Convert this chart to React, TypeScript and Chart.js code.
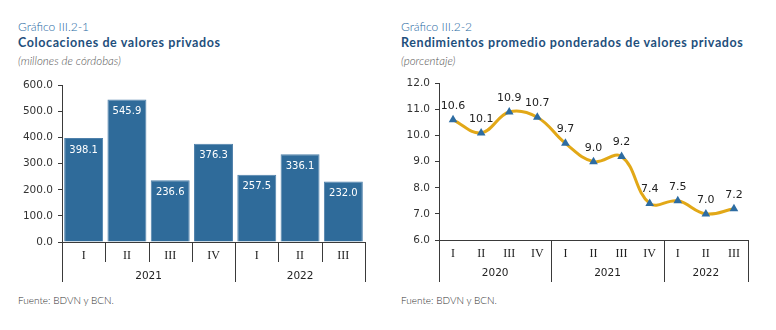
import React, { useEffect, useRef } from "react";
import { Chart, registerables } from "chart.js";

Chart.register(...registerables);

// ---- Data: chart 1 (bars)
const barQuarters = ["I", "II", "III", "IV", "I", "II", "III"];
const barYears = [
  { label: "2021", span: 4 },
  { label: "2022", span: 3 },
];
const barValues = [398.1, 545.9, 236.6, 376.3, 257.5, 336.1, 232.0];
const barYTicks = { min: 0, max: 600, step: 100 };

// ---- Data: chart 2 (line)
const lineQuarters = ["I", "II", "III", "IV", "I", "II", "III", "IV", "I", "II", "III"];
const lineYears = [
  { label: "2020", span: 4 },
  { label: "2021", span: 4 },
  { label: "2022", span: 3 },
];
const lineValues = [10.6, 10.1, 10.9, 10.7, 9.7, 9.0, 9.2, 7.4, 7.5, 7.0, 7.2];
const lineYTicks = { min: 6, max: 12, step: 1 };

const BLUE = "#2F6B9A";
const GOLD = "#E2A817";
const AXIS = "#3a3a3a";
const SANS = "'DejaVu Sans', Verdana, sans-serif";

const multiAxisPlugin = {
  id: "multiAxis",
  afterDraw(chart: any) {
    const o = chart.options.plugins.multiAxis;
    if (!o) return;
    const { ctx, chartArea } = chart;
    const x = chart.scales.x;
    const n = o.quarters.length;
    const w = (chartArea.right - chartArea.left) / n;
    const b = chartArea.bottom;
    ctx.save();
    ctx.strokeStyle = AXIS;
    ctx.lineWidth = 1;
    ctx.beginPath();
    ctx.moveTo(chartArea.left, Math.round(b) + 0.5);
    ctx.lineTo(chartArea.right, Math.round(b) + 0.5);
    ctx.stroke();
    const yearBounds: number[] = [0];
    let acc = 0;
    o.years.forEach((y: any) => {
      acc += y.span;
      yearBounds.push(acc);
    });
    for (let i = 0; i <= n; i++) {
      const px = Math.round(chartArea.left + i * w) + 0.5;
      const isYear = yearBounds.includes(i);
      if (!isYear && !o.quarterTicks) continue;
      ctx.beginPath();
      ctx.moveTo(px, b);
      ctx.lineTo(px, b + (isYear ? o.longLen : o.shortLen));
      ctx.stroke();
    }
    ctx.fillStyle = "#222";
    ctx.textAlign = "center";
    ctx.textBaseline = "middle";
    ctx.font = "12px 'Liberation Serif', 'Times New Roman', serif";
    o.quarters.forEach((q: string, i: number) => {
      ctx.fillText(q, x.getPixelForValue(i), b + o.qOffset);
    });
    ctx.font = "10.5px " + SANS;
    let start = 0;
    o.years.forEach((y: any) => {
      const cx = chartArea.left + (start + y.span / 2) * w;
      ctx.fillText(y.label, cx, b + o.yOffset);
      start += y.span;
    });
    ctx.restore();
  },
};

const valueLabelPlugin = {
  id: "valueLabels",
  afterDatasetsDraw(chart: any) {
    const o = chart.options.plugins.valueLabels;
    if (!o) return;
    const { ctx } = chart;
    const meta = chart.getDatasetMeta(0);
    const data = chart.data.datasets[0].data;
    ctx.save();
    ctx.fillStyle = o.color;
    ctx.font = o.font;
    ctx.textAlign = "center";
    ctx.textBaseline = "middle";
    meta.data.forEach((el: any, i: number) => {
      ctx.fillText(Number(data[i]).toFixed(1), el.x, el.y + o.dy);
    });
    ctx.restore();
  },
};

function yScale(t: { min: number; max: number; step: number }, width: number) {
  return {
    min: t.min,
    max: t.max,
    afterFit: (s: any) => {
      s.width = width;
    },
    ticks: {
      stepSize: t.step,
      color: "#333",
      font: { family: SANS, size: 10.5 },
      padding: 5,
      callback: (v: any) => Number(v).toFixed(1),
    },
    grid: {
      drawOnChartArea: false,
      drawTicks: true,
      tickLength: 4,
      color: AXIS,
    },
    border: { display: true, color: AXIS, width: 1 },
  };
}

function BarChart() {
  const ref = useRef<HTMLCanvasElement>(null);
  useEffect(() => {
    const chart = new Chart(ref.current!, {
      type: "bar",
      data: {
        labels: barQuarters,
        datasets: [
          {
            data: barValues,
            backgroundColor: BLUE,
            borderColor: "#4f81ab",
            borderWidth: 1,
            barPercentage: 0.9,
            categoryPercentage: 1,
          },
        ],
      },
      options: {
        responsive: false,
        animation: false,
        layout: { padding: { left: 0, right: 15, top: 10, bottom: 52 } },
        scales: {
          x: { display: false, offset: true },
          y: yScale(barYTicks, 62) as any,
        },
        plugins: {
          legend: { display: false },
          tooltip: { enabled: false },
          multiAxis: {
            quarters: barQuarters,
            years: barYears,
            quarterTicks: true,
            shortLen: 20,
            longLen: 40,
            qOffset: 14,
            yOffset: 34,
          },
          valueLabels: { color: "#fff", font: "10px " + SANS, dy: 12 },
        } as any,
      },
      plugins: [multiAxisPlugin, valueLabelPlugin],
    });
    return () => chart.destroy();
  }, []);
  return <canvas ref={ref} width={380} height={220} />;
}

function LineChart() {
  const ref = useRef<HTMLCanvasElement>(null);
  useEffect(() => {
    const chart = new Chart(ref.current!, {
      type: "line",
      data: {
        labels: lineQuarters,
        datasets: [
          {
            data: lineValues,
            borderColor: GOLD,
            borderWidth: 3,
            tension: 0.4,
            pointStyle: "triangle",
            pointRadius: 5,
            pointBackgroundColor: "#2D6CA2",
            pointBorderColor: "#2D6CA2",
            pointBorderWidth: 0,
            fill: false,
          },
        ],
      },
      options: {
        responsive: false,
        animation: false,
        layout: { padding: { left: 0, right: 28, top: 11, bottom: 52 } },
        scales: {
          x: { display: false, offset: true },
          y: yScale(lineYTicks, 59) as any,
        },
        plugins: {
          legend: { display: false },
          tooltip: { enabled: false },
          multiAxis: {
            quarters: lineQuarters,
            years: lineYears,
            quarterTicks: false,
            shortLen: 20,
            longLen: 42,
            qOffset: 14,
            yOffset: 33,
          },
          valueLabels: { color: "#222", font: "11px " + SANS, dy: -14 },
        } as any,
      },
      plugins: [multiAxisPlugin, valueLabelPlugin],
    });
    return () => chart.destroy();
  }, []);
  return <canvas ref={ref} width={396} height={220} />;
}

const TITLE_FONT = "Lato, 'Noto Sans', sans-serif";

function Titles({ left, kicker, title, sub }: { left: number; kicker: string; title: string; sub: string }) {
  const base: React.CSSProperties = {
    position: "absolute",
    left,
    whiteSpace: "nowrap",
    fontFamily: TITLE_FONT,
    lineHeight: "14px",
  };
  return (
    <>
      <div style={{ ...base, top: 20, fontSize: 12, color: "#2A6BA4", fontWeight: 300 }}>{kicker}</div>
      <div style={{ ...base, top: 36, fontSize: 12.5, color: "#1E4F7C", fontWeight: 700, letterSpacing: 0.6 }}>{title}</div>
      <div style={{ ...base, top: 54, fontSize: 11.5, color: "#555", fontStyle: "italic", fontWeight: 300 }}>{sub}</div>
      <div style={{ ...base, top: 293, fontSize: 10, color: "#333", fontWeight: 300 }}>Fuente: BDVN y BCN.</div>
    </>
  );
}

export default function App() {
  return (
    <div
      style={{
        position: "fixed",
        left: 0,
        top: 0,
        width: 776,
        height: 330,
        background: "#fff",
        overflow: "hidden",
      }}
    >
      <Titles left={18} kicker="Gráfico III.2-1" title="Colocaciones de valores privados" sub="(millones de córdobas)" />
      <Titles
        left={401}
        kicker="Gráfico III.2-2"
        title="Rendimientos promedio ponderados de valores privados"
        sub="(porcentaje)"
      />
      <div style={{ position: "absolute", left: 0, top: 74, width: 380, height: 220 }}>
        <BarChart />
      </div>
      <div style={{ position: "absolute", left: 380, top: 72, width: 396, height: 220 }}>
        <LineChart />
      </div>
    </div>
  );
}
